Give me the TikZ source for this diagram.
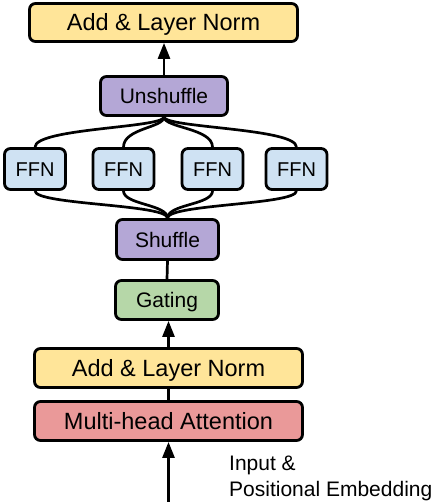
\documentclass[tikz,border=0pt]{standalone}
\usepackage{fontspec}
\setmainfont{Liberation Sans}
\usetikzlibrary{arrows.meta,calc}
\definecolor{cyellow}{HTML}{FFE599}
\definecolor{cpurple}{HTML}{B4A7D6}
\definecolor{cblue}{HTML}{CFE2F3}
\definecolor{cgreen}{HTML}{B6D7A8}
\definecolor{cred}{HTML}{EA9999}
\tikzset{
  blk/.style={draw=black, line width=2.8pt, rounded corners=6pt, inner sep=0pt, text=black, text depth=0pt},
  bigblk/.style={blk, minimum width=268pt, minimum height=38pt, text height=16.8pt, font=\fontsize{23.5}{28}\selectfont},
  midblk/.style={blk, minimum height=39pt, text height=15pt, font=\fontsize{21}{25}\selectfont},
  ffnblk/.style={blk, fill=cblue, minimum width=61pt, minimum height=41pt, text height=14.3pt, font=\fontsize{20}{24}\selectfont},
  conn/.style={line width=2.7pt, draw=black},
  arr/.style={conn, -{Triangle[width=12pt, length=16pt]}},
  lbl/.style={anchor=base west, inner sep=0pt, font=\fontsize{21}{25}\selectfont}
}
\begin{document}
\begin{tikzpicture}[x=1pt, y=-1pt]
\useasboundingbox (0,0) rectangle (436,502);
\node[bigblk, fill=cyellow] (top) at (163.5,22.5) {Add \& Layer Norm};
\node[midblk, fill=cpurple, minimum width=127pt] (un) at (164,96) {Unshuffle};
\node[ffnblk] (f1) at (35,169) {FFN};
\node[ffnblk] (f2) at (123.5,169) {FFN};
\node[ffnblk] (f3) at (212.5,169) {FFN};
\node[ffnblk] (f4) at (296.5,169) {FFN};
\node[midblk, fill=cpurple, minimum width=102pt, minimum height=40pt] (sh) at (167.5,239.5) {Shuffle};
\node[midblk, fill=cgreen, minimum width=103pt] (ga) at (167,300) {Gating};
\node[bigblk, fill=cyellow, minimum height=39pt] (ln) at (168.5,368) {Add \& Layer Norm};
\node[bigblk, fill=cred, minimum height=39pt] (mha) at (168.5,421) {Multi-head Attention};
\coordinate (inp) at (168.5,502);
\node[lbl] (t1) at (229,470) {Input \&};
\node[lbl] (t2) at (229,496) {Positional Embedding};

\draw[arr] (un.north) -- (un.north |- top.south);
\foreach \f in {f1,f2,f3,f4}{
  \draw[conn] (un.south) .. controls ($(un.south)+(0,11)$) and ($(\f.north)+(0,-19)$) .. (\f.north);
  \draw[conn] (sh.north) .. controls ($(sh.north)+(0,-14)$) and ($(\f.south)+(0,14)$) .. (\f.south);
}
\draw[conn] (sh.south) -- (ga.north);
\draw[arr] (ln.north) -- (ln.north |- ga.south);
\draw[conn] (ln.south) -- (mha.south |- mha.north);
\draw[arr] (inp) -- (mha.south);
\end{tikzpicture}
\end{document}
